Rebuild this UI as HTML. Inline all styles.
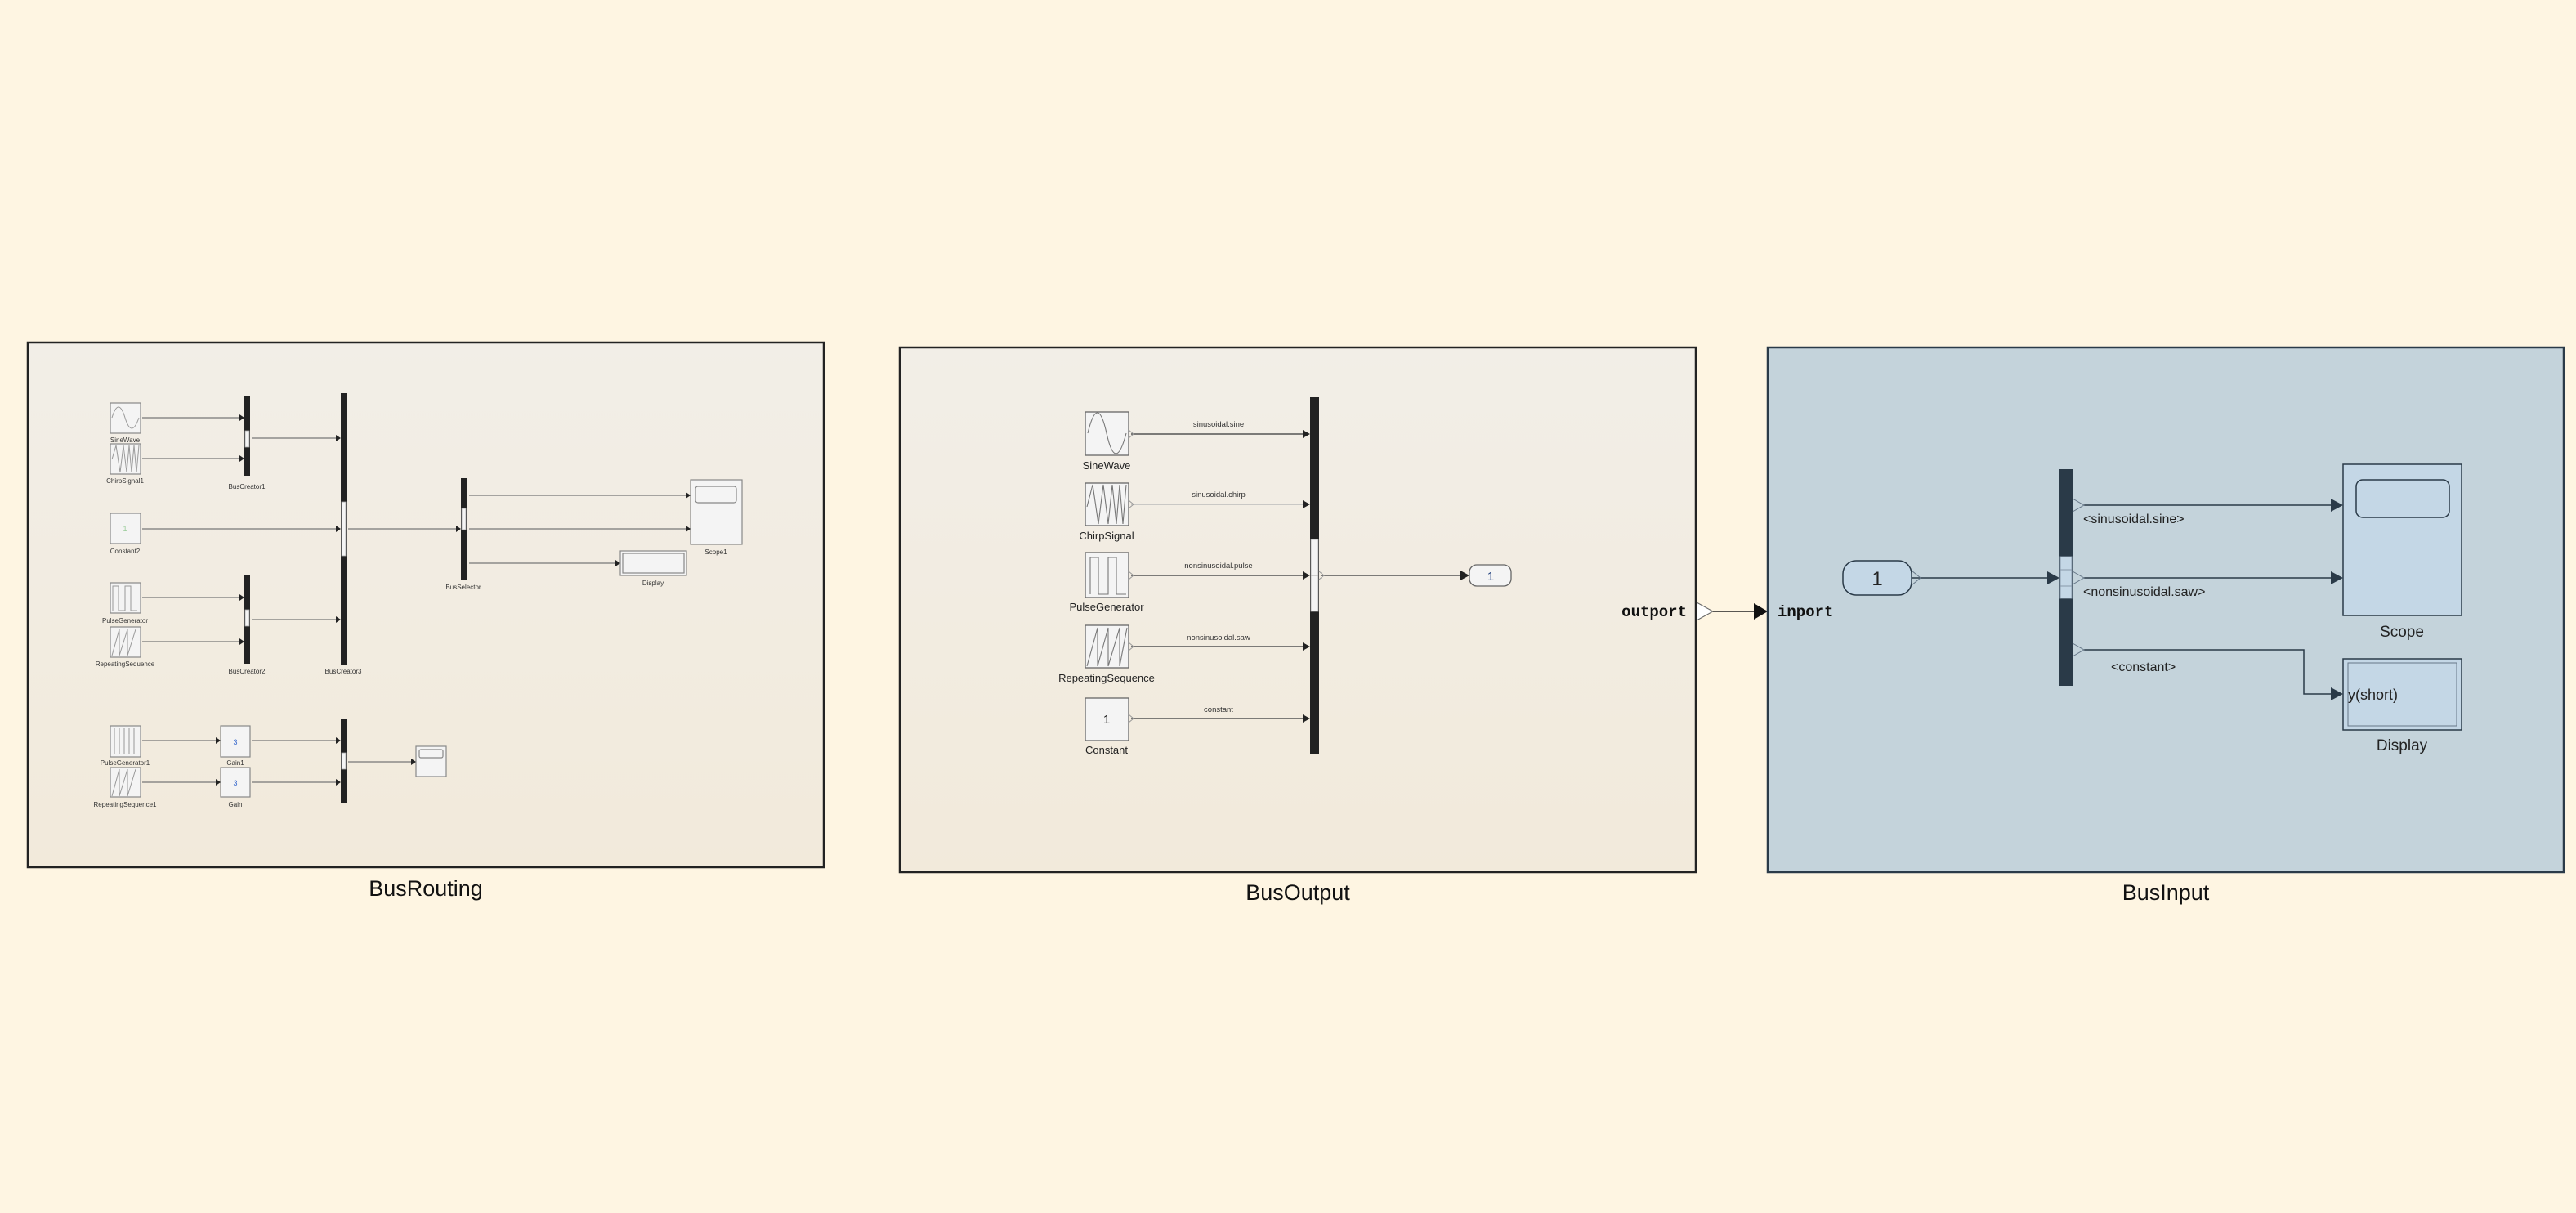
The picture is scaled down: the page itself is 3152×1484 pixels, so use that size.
<!DOCTYPE html>
<html><head><meta charset="utf-8"><style>
html,body{margin:0;padding:0;background:#fef5e2;}
svg{display:block;}
text{font-family:"Liberation Sans",sans-serif;}
</style></head><body>
<svg width="3152" height="1484" viewBox="0 0 3152 1484" xmlns="http://www.w3.org/2000/svg">
<defs>
<linearGradient id="g1" x1="0" y1="0" x2="0" y2="1"><stop offset="0" stop-color="#f2eee7"/><stop offset="1" stop-color="#f2eadb"/></linearGradient>
</defs>
<rect width="3152" height="1484" fill="#fef5e2"/>

<!-- ========== Panel 1 BusRouting ========== -->
<rect x="34" y="419" width="974" height="642" fill="url(#g1)" stroke="#222" stroke-width="2.5"/>
<text x="521" y="1096" font-size="27" text-anchor="middle" fill="#111">BusRouting</text>
<g stroke="#888" fill="#f4f4f4" stroke-width="1.2">
<rect x="135" y="493" width="37" height="37"/>
<rect x="135" y="543" width="37" height="37"/>
<rect x="135" y="628" width="37" height="37"/>
<rect x="135" y="713" width="37" height="37"/>
<rect x="135" y="767" width="37" height="37"/>
<rect x="135" y="888" width="37" height="38"/>
<rect x="135" y="939" width="37" height="36"/>
<rect x="270" y="888" width="36" height="38"/>
<rect x="270" y="939" width="36" height="36"/>
<rect x="845" y="587" width="63" height="79"/>
<rect x="851" y="595" width="50" height="20" rx="3"/>
<rect x="759" y="674" width="81" height="30"/>
<rect x="762" y="677" width="75" height="24" />
<rect x="509" y="913" width="37" height="37"/>
<rect x="513" y="917" width="29" height="10" rx="2"/>
</g>
<g fill="none" stroke="#999" stroke-width="1">
<path d="M137 511 Q145 485 153 511 T170 511"/>
<path d="M137 562 L142 545 L147 578 L151 545 L155 578 L158 545 L161 578 L164 545 L167 578 L170 545"/>
<path d="M138 747 L138 717 L145 717 L145 747 L153 747 L153 717 L160 717 L160 747 L168 747"/>
<path d="M137 802 L146 770 L146 802 L156 770 L156 802 L166 770"/>
<path d="M140 923 L140 891 M146 923 L146 891 M152 923 L152 891 M158 923 L158 891 M164 923 L164 891"/>
<path d="M137 974 L146 941 L146 974 L156 941 L156 974 L166 941"/>
</g>
<text x="153" y="650" font-size="9" fill="#9c9" text-anchor="middle">1</text>
<text x="288" y="911" font-size="9" fill="#36c" text-anchor="middle">3</text>
<text x="288" y="961" font-size="9" fill="#36c" text-anchor="middle">3</text>
<g fill="#222">
<rect x="299" y="485" width="7" height="97"/>
<rect x="417" y="481" width="7" height="333"/>
<rect x="564" y="585" width="7" height="125"/>
<rect x="299" y="704" width="7" height="108"/>
<rect x="417" y="880" width="7" height="103"/>
</g>
<g fill="#f4f4f4" stroke="#aaa" stroke-width="0.8">
<rect x="300" y="527" width="5" height="20"/>
<rect x="418" y="614" width="5" height="66"/>
<rect x="565" y="622" width="5" height="26"/>
<rect x="300" y="746" width="5" height="20"/>
<rect x="418" y="921" width="5" height="20"/>
</g>
<g stroke="#777" stroke-width="1.3" fill="none">
<path d="M174 511 H296 M174 561 H296 M308 536 H414 M174 647 H414 M426 647 H561 M574 606 H842 M574 647 H842 M574 689 H756 M174 731 H296 M174 785 H296 M308 758 H414 M174 906 H267 M174 957 H267 M308 906 H414 M308 957 H414 M426 932 H506"/>
</g>
<g fill="#222">
<path d="M299 511 l-6 -4 v8z M299 561 l-6 -4 v8z M417 536 l-6 -4 v8z M417 647 l-6 -4 v8z M564 647 l-6 -4 v8z M845 606 l-6 -4 v8z M845 647 l-6 -4 v8z M759 689 l-6 -4 v8z M299 731 l-6 -4 v8z M299 785 l-6 -4 v8z M417 758 l-6 -4 v8z M270 906 l-6 -4 v8z M270 957 l-6 -4 v8z M417 906 l-6 -4 v8z M417 957 l-6 -4 v8z M509 932 l-6 -4 v8z"/>
</g>
<g font-size="8" fill="#333" text-anchor="middle">
<text x="153" y="541">SineWave</text>
<text x="153" y="591">ChirpSignal1</text>
<text x="153" y="677">Constant2</text>
<text x="153" y="762">PulseGenerator</text>
<text x="153" y="815">RepeatingSequence</text>
<text x="153" y="936">PulseGenerator1</text>
<text x="153" y="987">RepeatingSequence1</text>
<text x="288" y="936">Gain1</text>
<text x="288" y="987">Gain</text>
<text x="302" y="598">BusCreator1</text>
<text x="302" y="824">BusCreator2</text>
<text x="420" y="824">BusCreator3</text>
<text x="567" y="721">BusSelector</text>
<text x="876" y="678">Scope1</text>
<text x="799" y="716">Display</text>
</g>

<!-- ========== Panel 2 BusOutput ========== -->
<rect x="1101" y="425" width="974" height="642" fill="url(#g1)" stroke="#222" stroke-width="2.5"/>
<text x="1588" y="1101" font-size="27" text-anchor="middle" fill="#111">BusOutput</text>
<g stroke="#666" fill="#f4f4f4" stroke-width="1.3">
<rect x="1328" y="504" width="53" height="53"/>
<rect x="1328" y="591" width="53" height="52"/>
<rect x="1328" y="676" width="53" height="55"/>
<rect x="1328" y="765" width="53" height="52"/>
<rect x="1328" y="854" width="53" height="52"/>
<rect x="1798" y="691" width="51" height="26" rx="9"/>
</g>
<g fill="none" stroke="#777" stroke-width="1.1">
<path d="M1331 530 Q1343 480 1354 530 T1378 530"/>
<path d="M1330 620 L1337 593 L1344 641 L1350 593 L1356 641 L1361 593 L1366 641 L1370 593 L1374 641 L1378 593"/>
<path d="M1334 727 L1334 682 L1344 682 L1344 727 L1356 727 L1356 682 L1366 682 L1366 727 L1378 727"/>
<path d="M1330 815 L1343 768 L1343 815 L1356 768 L1356 815 L1370 768 L1370 815 L1379 768"/>
</g>
<text x="1354" y="885" font-size="15" text-anchor="middle" fill="#111">1</text>
<text x="1824" y="710" font-size="15" text-anchor="middle" fill="#1a3a7a">1</text>
<rect x="1603" y="486" width="11" height="436" fill="#222"/>
<rect x="1604" y="660" width="9" height="88" fill="#f4f4f4" stroke="#aaa" stroke-width="0.8"/>
<line x1="1604" y1="704" x2="1613" y2="704" stroke="#aaa"/>
<g stroke="#555" stroke-width="1.4" fill="none">
<path d="M1384 531 H1598 M1384 704 H1598 M1384 791 H1598 M1384 879 H1598 M1616 704 H1792"/>
<path d="M1384 617 H1598" stroke="#bbb"/>
</g>
<g fill="#222">
<path d="M1603 531 l-9 -5 v10z M1603 617 l-9 -5 v10z M1603 704 l-9 -5 v10z M1603 791 l-9 -5 v10z M1603 879 l-9 -5 v10z M1798 704 l-11 -6 v12z"/>
</g>
<g fill="none" stroke="#999" stroke-width="1">
<path d="M1381 526 l6 5 l-6 5 M1381 612 l6 5 l-6 5 M1381 699 l6 5 l-6 5 M1381 786 l6 5 l-6 5 M1381 874 l6 5 l-6 5 M1614 699 l6 5 l-6 5"/>
</g>
<g font-size="9.5" fill="#333" text-anchor="middle">
<text x="1491" y="522">sinusoidal.sine</text>
<text x="1491" y="608">sinusoidal.chirp</text>
<text x="1491" y="695">nonsinusoidal.pulse</text>
<text x="1491" y="783">nonsinusoidal.saw</text>
<text x="1491" y="871">constant</text>
</g>
<g font-size="13" fill="#222" text-anchor="middle">
<text x="1354" y="574">SineWave</text>
<text x="1354" y="660">ChirpSignal</text>
<text x="1354" y="747">PulseGenerator</text>
<text x="1354" y="834">RepeatingSequence</text>
<text x="1354" y="922">Constant</text>
</g>
<text x="2064" y="754" font-size="19" font-weight="bold" text-anchor="end" fill="#111" style="font-family:'Liberation Mono',monospace">outport</text>
<path d="M2076 737 l20 11 l-20 11" fill="#fff" stroke="#666" stroke-width="1"/>
<line x1="2096" y1="748" x2="2150" y2="748" stroke="#222" stroke-width="1.5"/>
<path d="M2163 748 l-17 -10 v20z" fill="#111"/>

<!-- ========== Panel 3 BusInput ========== -->
<rect x="2163" y="425" width="974" height="642" fill="#c4d3db" stroke="#2a3a48" stroke-width="2.5"/>
<text x="2650" y="1101" font-size="27" text-anchor="middle" fill="#111">BusInput</text>
<text x="2175" y="754" font-size="19" font-weight="bold" fill="#111" style="font-family:'Liberation Mono',monospace">inport</text>
<rect x="2255" y="686" width="84" height="42" rx="16" fill="#c4d7e6" stroke="#2a3a48" stroke-width="1.5"/>
<text x="2297" y="716" font-size="24" text-anchor="middle" fill="#222">1</text>
<rect x="2520" y="574" width="16" height="265" fill="#2a3a48"/>
<rect x="2521" y="681" width="14" height="51" fill="#c4d7e6" stroke="#8899aa" stroke-width="1"/>
<line x1="2521" y1="697" x2="2535" y2="697" stroke="#8899aa"/>
<line x1="2521" y1="717" x2="2535" y2="717" stroke="#8899aa"/>
<rect x="2867" y="568" width="145" height="185" fill="#c4d7e6" stroke="#2a3a48" stroke-width="1.5"/>
<rect x="2883" y="587" width="114" height="46" rx="8" fill="#c4d7e6" stroke="#2a3a48" stroke-width="1.5"/>
<rect x="2867" y="806" width="145" height="87" fill="#c4d7e6" stroke="#2a3a48" stroke-width="1.5"/>
<rect x="2873" y="811" width="133" height="77" fill="none" stroke="#667788" stroke-width="1"/>
<text x="2873" y="856" font-size="18" fill="#222">y(short)</text>
<g stroke="#2a3a48" stroke-width="1.5" fill="none">
<path d="M2339 707 H2505 M2550 618 H2855 M2550 707 H2855 M2550 795 H2819 V849 H2855"/>
</g>
<g fill="#2a3a48">
<path d="M2520 707 l-15 -8 v16z M2867 618 l-15 -8 v16z M2867 707 l-15 -8 v16z M2867 849 l-15 -8 v16z"/>
</g>
<g fill="none" stroke="#667788" stroke-width="1">
<path d="M2339 698 l11 9 l-11 9 M2536 610 l14 8 l-14 8 M2536 699 l14 8 l-14 8 M2536 787 l14 8 l-14 8"/>
</g>
<g font-size="16" fill="#222">
<text x="2549" y="640">&lt;sinusoidal.sine&gt;</text>
<text x="2549" y="729">&lt;nonsinusoidal.saw&gt;</text>
<text x="2583" y="821">&lt;constant&gt;</text>
</g>
<g font-size="19" fill="#222" text-anchor="middle">
<text x="2939" y="779">Scope</text>
<text x="2939" y="918">Display</text>
</g>
</svg>
</body></html>
